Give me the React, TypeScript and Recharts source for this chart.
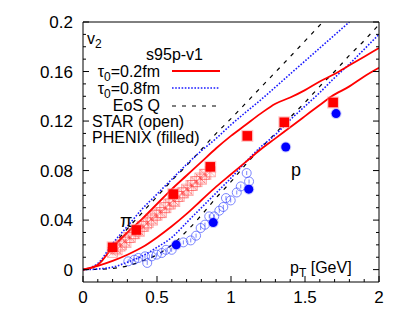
import React from 'react';
import { ComposedChart, Line, Scatter, XAxis, YAxis } from 'recharts';

const FONT = '"Liberation Sans", Arial, Helvetica, sans-serif';

// tick positions (minor + major)
const xTicks = [0, 0.1, 0.2, 0.3, 0.4, 0.5, 0.6, 0.7, 0.8, 0.9, 1, 1.1, 1.2, 1.3, 1.4, 1.5, 1.6, 1.7, 1.8, 1.9, 2];
const xLabels = ['0', '0.5', '1', '1.5', '2'];
const yTicks = [0, 0.01, 0.02, 0.03, 0.04, 0.05, 0.06, 0.07, 0.08, 0.09, 0.1, 0.11, 0.12, 0.13, 0.14, 0.15, 0.16, 0.17, 0.18, 0.19, 0.2];
const yLabels = ['0', '0.04', '0.08', '0.12', '0.16', '0.2'];

// hydro, tau0 = 0.2 fm (red solid)
const tau02Pion = [
  { pt: 0, v: 0 }, { pt: 0.1, v: 0.004 }, { pt: 0.2, v: 0.018 }, { pt: 0.3, v: 0.03 },
  { pt: 0.4, v: 0.041 }, { pt: 0.5, v: 0.053 }, { pt: 0.6, v: 0.065 }, { pt: 0.7, v: 0.076 },
  { pt: 0.8, v: 0.087 }, { pt: 0.9, v: 0.098 }, { pt: 1.0, v: 0.108 }, { pt: 1.1, v: 0.117 },
  { pt: 1.2, v: 0.126 }, { pt: 1.3, v: 0.134 }, { pt: 1.4, v: 0.139 }, { pt: 1.5, v: 0.145 },
  { pt: 1.6, v: 0.152 }, { pt: 1.7, v: 0.158 }, { pt: 1.8, v: 0.165 }, { pt: 1.9, v: 0.172 },
  { pt: 2.0, v: 0.179 },
];
const tau02Proton = [
  { pt: 0, v: 0 }, { pt: 0.1, v: 0.003 }, { pt: 0.2, v: 0.007 }, { pt: 0.3, v: 0.012 },
  { pt: 0.4, v: 0.018 }, { pt: 0.5, v: 0.026 }, { pt: 0.6, v: 0.035 }, { pt: 0.7, v: 0.045 },
  { pt: 0.8, v: 0.056 }, { pt: 0.9, v: 0.067 }, { pt: 1.0, v: 0.077 }, { pt: 1.1, v: 0.087 },
  { pt: 1.2, v: 0.097 }, { pt: 1.3, v: 0.106 }, { pt: 1.4, v: 0.115 }, { pt: 1.5, v: 0.124 },
  { pt: 1.6, v: 0.133 }, { pt: 1.68, v: 0.14 }, { pt: 1.8, v: 0.148 }, { pt: 1.9, v: 0.156 },
  { pt: 2.0, v: 0.163 },
];

// hydro, tau0 = 0.8 fm (blue dotted)
const tau08Pion = [
  { pt: 0, v: 0 }, { pt: 0.1, v: 0.005 }, { pt: 0.2, v: 0.021 }, { pt: 0.3, v: 0.035 },
  { pt: 0.4, v: 0.049 }, { pt: 0.5, v: 0.061 }, { pt: 0.6, v: 0.073 }, { pt: 0.7, v: 0.085 },
  { pt: 0.8, v: 0.096 }, { pt: 0.9, v: 0.106 }, { pt: 1.0, v: 0.117 }, { pt: 1.2, v: 0.137 },
  { pt: 1.4, v: 0.158 }, { pt: 1.6, v: 0.179 }, { pt: 1.8, v: 0.2 },
];
const tau08Proton = [
  { pt: 0, v: 0 }, { pt: 0.1, v: 0.0005 }, { pt: 0.2, v: 0.002 }, { pt: 0.3, v: 0.006 },
  { pt: 0.4, v: 0.011 }, { pt: 0.5, v: 0.018 }, { pt: 0.6, v: 0.026 }, { pt: 0.7, v: 0.038 },
  { pt: 0.8, v: 0.05 }, { pt: 0.9, v: 0.062 }, { pt: 1.0, v: 0.074 }, { pt: 1.1, v: 0.087 },
  { pt: 1.2, v: 0.099 }, { pt: 1.3, v: 0.109 }, { pt: 1.4, v: 0.121 }, { pt: 1.5, v: 0.132 },
  { pt: 1.6, v: 0.143 }, { pt: 1.7, v: 0.155 }, { pt: 1.8, v: 0.166 }, { pt: 1.9, v: 0.178 },
  { pt: 2.0, v: 0.19 },
];

// EoS Q (black dashed)
const eosQPion = [
  { pt: 0, v: 0 }, { pt: 0.1, v: 0.004 }, { pt: 0.2, v: 0.019 }, { pt: 0.3, v: 0.033 },
  { pt: 0.4, v: 0.046 }, { pt: 0.5, v: 0.059 }, { pt: 0.6, v: 0.072 }, { pt: 0.7, v: 0.084 },
  { pt: 0.8, v: 0.097 }, { pt: 0.9, v: 0.11 }, { pt: 1.0, v: 0.122 }, { pt: 1.2, v: 0.147 },
  { pt: 1.4, v: 0.172 }, { pt: 1.62, v: 0.2 },
];
const eosQProton = [
  { pt: 0, v: 0 }, { pt: 0.1, v: 0.0003 }, { pt: 0.2, v: 0.001 }, { pt: 0.3, v: 0.003 },
  { pt: 0.4, v: 0.007 }, { pt: 0.5, v: 0.012 }, { pt: 0.6, v: 0.02 }, { pt: 0.7, v: 0.031 },
  { pt: 0.8, v: 0.044 }, { pt: 0.9, v: 0.058 }, { pt: 1.0, v: 0.071 }, { pt: 1.1, v: 0.085 },
  { pt: 1.2, v: 0.098 }, { pt: 1.3, v: 0.11 }, { pt: 1.4, v: 0.123 }, { pt: 1.5, v: 0.135 },
  { pt: 1.6, v: 0.148 }, { pt: 1.7, v: 0.16 }, { pt: 1.8, v: 0.173 }, { pt: 1.9, v: 0.185 },
  { pt: 2.0, v: 0.198 },
];

// PHENIX (filled)
const phenixPion = [
  { pt: 0.2, v: 0.018 }, { pt: 0.36, v: 0.032 }, { pt: 0.61, v: 0.061 }, { pt: 0.86, v: 0.083 },
  { pt: 1.11, v: 0.108 }, { pt: 1.36, v: 0.119 }, { pt: 1.69, v: 0.135 },
];
const phenixProton = [
  { pt: 0.63, v: 0.02 }, { pt: 0.88, v: 0.038 }, { pt: 1.12, v: 0.065 }, { pt: 1.37, v: 0.099 },
  { pt: 1.71, v: 0.126 },
];

// STAR (open)
const starPion = [
  { pt: 0.2, v: 0.014 }, { pt: 0.22, v: 0.017 }, { pt: 0.23, v: 0.016 }, { pt: 0.25, v: 0.019 },
  { pt: 0.26, v: 0.02 }, { pt: 0.28, v: 0.023 }, { pt: 0.29, v: 0.022 }, { pt: 0.31, v: 0.026 },
  { pt: 0.32, v: 0.026 }, { pt: 0.34, v: 0.029 }, { pt: 0.35, v: 0.029 }, { pt: 0.37, v: 0.032 },
  { pt: 0.38, v: 0.031 }, { pt: 0.4, v: 0.035 }, { pt: 0.41, v: 0.035 }, { pt: 0.43, v: 0.037 },
  { pt: 0.44, v: 0.038 }, { pt: 0.46, v: 0.041 }, { pt: 0.47, v: 0.04 }, { pt: 0.49, v: 0.044 },
  { pt: 0.5, v: 0.044 }, { pt: 0.52, v: 0.046 }, { pt: 0.53, v: 0.046 }, { pt: 0.55, v: 0.05 },
  { pt: 0.56, v: 0.05 }, { pt: 0.58, v: 0.053 }, { pt: 0.59, v: 0.053 }, { pt: 0.61, v: 0.056 },
  { pt: 0.62, v: 0.055 }, { pt: 0.64, v: 0.059 }, { pt: 0.65, v: 0.059 }, { pt: 0.67, v: 0.062 },
  { pt: 0.68, v: 0.062 }, { pt: 0.7, v: 0.065 }, { pt: 0.71, v: 0.064 }, { pt: 0.73, v: 0.068 },
  { pt: 0.74, v: 0.068 }, { pt: 0.76, v: 0.071 }, { pt: 0.77, v: 0.071 }, { pt: 0.79, v: 0.074 },
  { pt: 0.8, v: 0.073 }, { pt: 0.82, v: 0.077 }, { pt: 0.83, v: 0.077 }, { pt: 0.86, v: 0.079 },
];
const starProton = [
  { pt: 0.306, v: 0.0067 }, { pt: 0.347, v: 0.008 }, { pt: 0.374, v: 0.0094 }, { pt: 0.419, v: 0.0107 },
  { pt: 0.434, v: 0.0054 }, { pt: 0.464, v: 0.0107 }, { pt: 0.498, v: 0.0121 }, { pt: 0.532, v: 0.0134 },
  { pt: 0.561, v: 0.016 }, { pt: 0.599, v: 0.016 }, { pt: 0.678, v: 0.022 }, { pt: 0.728, v: 0.0236 },
  { pt: 0.764, v: 0.0274 }, { pt: 0.795, v: 0.0336 }, { pt: 0.824, v: 0.0363 }, { pt: 0.853, v: 0.043 },
  { pt: 0.887, v: 0.043 }, { pt: 0.921, v: 0.0476 }, { pt: 0.948, v: 0.0506 }, { pt: 0.966, v: 0.0578 },
  { pt: 0.998, v: 0.0559 }, { pt: 1.039, v: 0.0623 }, { pt: 1.066, v: 0.0672 }, { pt: 1.106, v: 0.078 },
  { pt: 1.122, v: 0.0712 },
];

const fmt = (v: number) => String(Number(v.toFixed(3)));

function BottomTick(props: any) {
  const { x, y, payload } = props;
  const label = fmt(payload.value);
  const major = xLabels.includes(label);
  return (
    <g>
      <line x1={x} x2={x} y1={y} y2={y - (major ? 6 : 3)} stroke="#000" />
      {major && (
        <text x={x} y={y + 21} textAnchor="middle" fontSize={17} fontFamily={FONT} fill="#000">
          {label}
        </text>
      )}
    </g>
  );
}

function TopTick(props: any) {
  const { x, y, payload } = props;
  const major = xLabels.includes(fmt(payload.value));
  return <line x1={x} x2={x} y1={y} y2={y + (major ? 6 : 3)} stroke="#000" />;
}

function LeftTick(props: any) {
  const { x, y, payload } = props;
  const label = fmt(payload.value);
  const major = yLabels.includes(label);
  return (
    <g>
      <line x1={x} x2={x + (major ? 6 : 3)} y1={y} y2={y} stroke="#000" />
      {major && (
        <text x={x - 10} y={y + 6} textAnchor="end" fontSize={17} fontFamily={FONT} fill="#000">
          {label}
        </text>
      )}
    </g>
  );
}

function RightTick(props: any) {
  const { x, y, payload } = props;
  const major = yLabels.includes(fmt(payload.value));
  return <line x1={x} x2={x - (major ? 6 : 3)} y1={y} y2={y} stroke="#000" />;
}

const PhenixSquare = (p: any) => (
  <g>
    <rect x={p.cx - 6} y={p.cy - 6} width={12} height={12} fill="#ff9090" opacity={0.5} />
    <rect x={p.cx - 4.8} y={p.cy - 4.8} width={9.6} height={9.6} fill="#ff0000" />
  </g>
);

const PhenixCircle = (p: any) => (
  <g>
    <circle cx={p.cx} cy={p.cy} r={5.5} fill="#8080ff" opacity={0.4} />
    <circle cx={p.cx} cy={p.cy} r={4.5} fill="#0000ff" />
  </g>
);

const StarSquare = (p: any) => (
  <g stroke="#ff3030" strokeWidth={0.8} fill="none" opacity={0.45}>
    <rect x={p.cx - 5} y={p.cy - 5} width={10} height={10} />
    <line x1={p.cx - 5} y1={p.cy - 5} x2={p.cx + 5} y2={p.cy + 5} />
    <line x1={p.cx - 5} y1={p.cy + 5} x2={p.cx + 5} y2={p.cy - 5} />
  </g>
);

const StarCircle = (p: any) => (
  <g stroke="#3040ff" strokeWidth={0.9} fill="none" opacity={0.7}>
    <circle cx={p.cx} cy={p.cy} r={4.5} />
    <line x1={p.cx} y1={p.cy - 2} x2={p.cx} y2={p.cy + 2} />
  </g>
);

export default function App() {
  return (
    <div style={{ position: 'absolute', left: 0, top: 0, width: 409, height: 318, background: '#fff' }}>
      <ComposedChart width={409} height={318} margin={{ top: 21, right: 29, bottom: 0, left: 23 }}>
        <XAxis
          dataKey="pt"
          type="number"
          domain={[0, 2]}
          ticks={xTicks}
          interval={0}
          allowDataOverflow
          height={36}
          tickLine={false}
          tickSize={0}
          tickMargin={0}
          tick={<BottomTick />}
          axisLine={{ stroke: '#000' }}
        />
        <XAxis
          xAxisId="top"
          orientation="top"
          type="number"
          domain={[0, 2]}
          ticks={xTicks}
          interval={0}
          allowDataOverflow
          height={1}
          tickLine={false}
          tickSize={0}
          tickMargin={0}
          tick={<TopTick />}
          axisLine={{ stroke: '#000' }}
        />
        <YAxis
          dataKey="v"
          type="number"
          domain={[-0.01, 0.2]}
          ticks={yTicks}
          interval={0}
          allowDataOverflow
          width={60}
          tickLine={false}
          tickSize={0}
          tickMargin={0}
          tick={<LeftTick />}
          axisLine={{ stroke: '#000' }}
        />
        <YAxis
          yAxisId="right"
          orientation="right"
          type="number"
          domain={[-0.01, 0.2]}
          ticks={yTicks}
          interval={0}
          allowDataOverflow
          width={1}
          tickLine={false}
          tickSize={0}
          tickMargin={0}
          tick={<RightTick />}
          axisLine={{ stroke: '#000' }}
        />

        <Scatter data={starPion} shape={StarSquare} isAnimationActive={false} />
        <Scatter data={starProton} shape={StarCircle} isAnimationActive={false} />

        <Line data={eosQPion} dataKey="v" type="monotone" stroke="#000" strokeWidth={1.2} strokeDasharray="4 6" dot={false} isAnimationActive={false} />
        <Line data={eosQProton} dataKey="v" type="monotone" stroke="#000" strokeWidth={1.2} strokeDasharray="4 6" dot={false} isAnimationActive={false} />
        <Line data={tau08Pion} dataKey="v" type="monotone" stroke="#1a1aff" strokeWidth={1.6} strokeDasharray="1.6 1.6" dot={false} isAnimationActive={false} />
        <Line data={tau08Proton} dataKey="v" type="monotone" stroke="#1a1aff" strokeWidth={1.6} strokeDasharray="1.6 1.6" dot={false} isAnimationActive={false} />
        <Line data={tau02Pion} dataKey="v" type="monotone" stroke="#ff0000" strokeWidth={1.8} dot={false} isAnimationActive={false} />
        <Line data={tau02Proton} dataKey="v" type="monotone" stroke="#ff0000" strokeWidth={1.8} dot={false} isAnimationActive={false} />

        <Scatter data={phenixPion} shape={PhenixSquare} isAnimationActive={false} />
        <Scatter data={phenixProton} shape={PhenixCircle} isAnimationActive={false} />
      </ComposedChart>

      <svg
        width={409}
        height={318}
        style={{ position: 'absolute', left: 0, top: 0, pointerEvents: 'none' }}
        fontFamily={FONT}
        fontSize={16}
        fill="#000"
      >
        <text x={87} y={44}>
          v<tspan fontSize={12} dy={4}>2</tspan>
        </text>
        <text x={203} y={60} textAnchor="end">s95p-v1</text>
        <text x={160} y={77} textAnchor="end">
          τ<tspan fontSize={12} dy={4}>0</tspan><tspan dy={-4}>=0.2fm</tspan>
        </text>
        <line x1={172} x2={220} y1={71} y2={71} stroke="#ff0000" strokeWidth={1.8} />
        <text x={160} y={94} textAnchor="end">
          τ<tspan fontSize={12} dy={4}>0</tspan><tspan dy={-4}>=0.8fm</tspan>
        </text>
        <line x1={172} x2={220} y1={88} y2={88} stroke="#1a1aff" strokeWidth={1.6} strokeDasharray="1.6 1.6" />
        <text x={160} y={111} textAnchor="end">EoS Q</text>
        <line x1={172} x2={220} y1={106} y2={106} stroke="#000" strokeWidth={1.2} strokeDasharray="4 6" />
        <text x={92} y={127}>STAR (open)</text>
        <text x={92} y={143}>PHENIX (filled)</text>

        <text x={120} y={227} fontSize={18}>π</text>
        <text x={291} y={176} fontSize={18}>p</text>
        <text x={290} y={273}>
          p<tspan fontSize={12} dy={4}>T</tspan><tspan dy={-4}> [GeV]</tspan>
        </text>
      </svg>
    </div>
  );
}
